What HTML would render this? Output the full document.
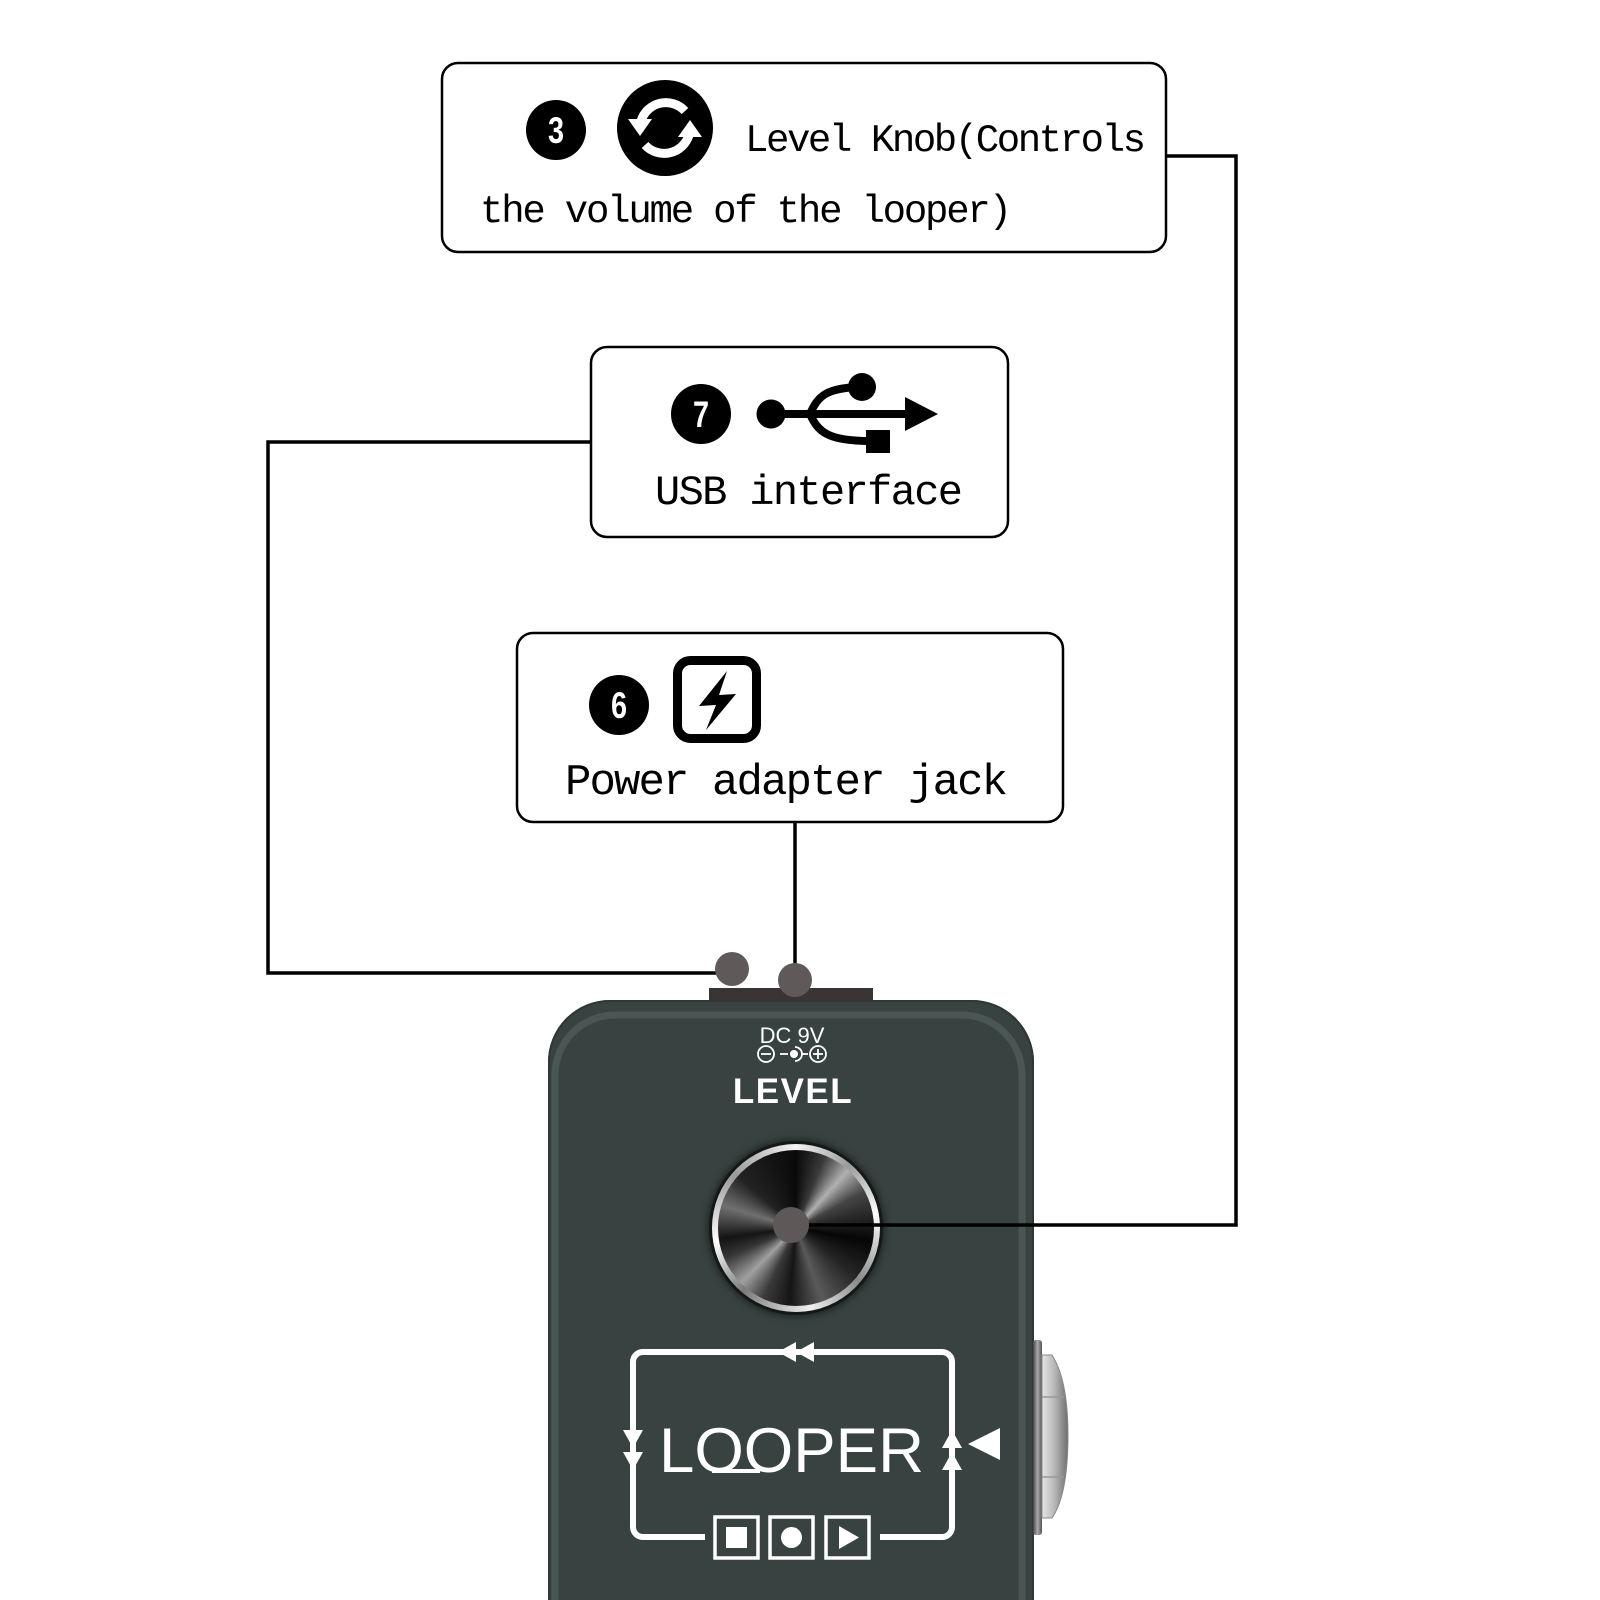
<!DOCTYPE html>
<html><head><meta charset="utf-8"><style>
html,body{margin:0;padding:0;background:#fff;}
#wrap{position:relative;width:1600px;height:1600px;overflow:hidden;background:#fff;}
svg{position:absolute;left:0;top:0;}
.knob{position:absolute;left:712px;top:1144px;width:168px;height:168px;border-radius:50%;
background:conic-gradient(#f4f4f4 0deg,#9a9a9a 40deg,#ffffff 80deg,#8a8a8a 130deg,#f0f0f0 170deg,#7a7a7a 220deg,#ffffff 260deg,#999 310deg,#f4f4f4 360deg);
box-shadow:0 0 0 3px #151818,0 0 8px 5px rgba(0,0,0,.45);}
.knob .in{position:absolute;left:6px;top:6px;right:6px;bottom:6px;border-radius:50%;
background:conic-gradient(#0a0a0a 0deg,#3a3a3a 22deg,#b0b0b0 42deg,#444 62deg,#060606 100deg,#262626 130deg,#5a5a5a 160deg,#151515 185deg,#3a3a3a 205deg,#a0a0a0 225deg,#363636 247deg,#141414 262deg,#707070 287deg,#222 312deg,#0a0a0a 360deg);}
</style></head><body><div id="wrap">
<svg width="1600" height="1600" viewBox="0 0 1600 1600" xmlns="http://www.w3.org/2000/svg">
  <rect width="1600" height="1600" fill="#fff"/>
  <!-- Box 1 -->
  <rect x="442" y="63" width="724" height="189" rx="16" fill="#fff" stroke="#000" stroke-width="2.5"/>
  <circle cx="556" cy="130" r="30" fill="#000"/>
  <text x="556" y="143" font-family="Liberation Sans, sans-serif" font-weight="bold" font-size="37" fill="#fff" text-anchor="middle" transform="translate(556 0) scale(0.78 1) translate(-556 0)">3</text>
  <circle cx="665" cy="128" r="48" fill="#000"/>
  <path d="M685 111 A26 26 0 0 0 641 121" fill="none" stroke="#fff" stroke-width="9"/>
  <polygon points="628,119 652,119 640,136" fill="#fff"/>
  <path d="M645 145 A26 26 0 0 0 689 135" fill="none" stroke="#fff" stroke-width="9"/>
  <polygon points="678,137 702,137 690,120" fill="#fff"/>
  <text x="745" y="151" font-family="Liberation Mono, monospace" font-size="39" fill="#000" textLength="401" lengthAdjust="spacing">Level Knob(Controls</text>
  <text x="480" y="222" font-family="Liberation Mono, monospace" font-size="39" fill="#000" textLength="532" lengthAdjust="spacing">the volume of the looper)</text>

  <!-- Box 2 -->
  <rect x="591" y="347" width="417" height="190" rx="16" fill="#fff" stroke="#000" stroke-width="2.5"/>
  <circle cx="701" cy="414" r="30" fill="#000"/>
  <text x="701" y="427" font-family="Liberation Sans, sans-serif" font-weight="bold" font-size="37" fill="#fff" text-anchor="middle" transform="translate(701 0) scale(0.78 1) translate(-701 0)">7</text>
  <circle cx="771" cy="414" r="14.5" fill="#000"/>
  <line x1="771" y1="414" x2="912" y2="414" stroke="#000" stroke-width="8"/>
  <polygon points="905,397 938,414 905,431" fill="#000"/>
  <path d="M810 414 C818 396 826 388 860 387" fill="none" stroke="#000" stroke-width="8"/>
  <circle cx="862" cy="387" r="14" fill="#000"/>
  <path d="M810 414 C818 432 828 441 870 441" fill="none" stroke="#000" stroke-width="8"/>
  <rect x="866" y="430" width="24" height="23" fill="#000"/>
  <text x="655" y="504" font-family="Liberation Mono, monospace" font-size="42" fill="#000" textLength="308" lengthAdjust="spacing">USB interface</text>

  <!-- Box 3 -->
  <rect x="517" y="633" width="546" height="189" rx="16" fill="#fff" stroke="#000" stroke-width="2.5"/>
  <circle cx="619" cy="705" r="30" fill="#000"/>
  <text x="619" y="718" font-family="Liberation Sans, sans-serif" font-weight="bold" font-size="37" fill="#fff" text-anchor="middle" transform="translate(619 0) scale(0.78 1) translate(-619 0)">6</text>
  <rect x="677.5" y="660.5" width="79" height="78" rx="13" fill="#fff" stroke="#000" stroke-width="9"/>
  <path d="M727 671 L699 706 L716 705 L706 730 L736 694 L719 695 Z" fill="#000"/>
  <text x="565" y="794" font-family="Liberation Mono, monospace" font-size="44" fill="#000" textLength="443" lengthAdjust="spacing">Power adapter jack</text>

  <!-- Pedal -->
  <rect x="709" y="988" width="164" height="14" fill="#3b3434"/>
  <path d="M548 1600 V1062 A62 62 0 0 1 610 1000 H972 A62 62 0 0 1 1034 1062 V1600 Z" fill="#384341"/>
  <path d="M555 1600 V1075 A60 60 0 0 1 615 1015 H962 A60 60 0 0 1 1022 1075 V1600" fill="none" stroke="#4a5654" stroke-width="7"/>
  <path d="M549 1600 V1062 A61 61 0 0 1 610 1001 H972 A61 61 0 0 1 1033 1062 V1600" fill="none" stroke="#2e3735" stroke-width="2"/>

  <!-- jack on right -->
  <defs>
    <linearGradient id="nut" x1="0" x2="1" y1="0" y2="0">
      <stop offset="0" stop-color="#e6e6e6"/><stop offset="0.5" stop-color="#b4b4b4"/><stop offset="1" stop-color="#6e6e6e"/>
    </linearGradient>
    <linearGradient id="plate" x1="0" x2="1" y1="0" y2="0">
      <stop offset="0" stop-color="#444"/><stop offset="0.5" stop-color="#aaa"/><stop offset="1" stop-color="#555"/>
    </linearGradient>
  </defs>
  <rect x="1033" y="1340" width="9" height="195" rx="3" fill="url(#plate)"/>
  <path d="M1042 1355 H1052 Q1068 1380 1068 1435 Q1068 1495 1052 1518 H1042 Z" fill="url(#nut)" stroke="#8a8a8a" stroke-width="1"/>
  <line x1="1042" y1="1397" x2="1064" y2="1397" stroke="#999" stroke-width="1.5"/>
  <line x1="1042" y1="1477" x2="1064" y2="1477" stroke="#999" stroke-width="1.5"/>

  <!-- DC 9V -->
  <text x="792" y="1043" font-family="Liberation Sans, sans-serif" font-size="22" fill="#fff" text-anchor="middle">DC 9V</text>
  <circle cx="766" cy="1054" r="8" fill="none" stroke="#fff" stroke-width="1.8"/>
  <line x1="761" y1="1054" x2="771" y2="1054" stroke="#fff" stroke-width="1.8"/>
  <line x1="780" y1="1054" x2="788" y2="1054" stroke="#fff" stroke-width="1.8"/>
  <circle cx="794" cy="1054" r="4" fill="#fff"/>
  <path d="M795 1047 A7 7 0 0 1 795 1061" fill="none" stroke="#fff" stroke-width="1.8"/>
  <line x1="801" y1="1054" x2="808" y2="1054" stroke="#fff" stroke-width="1.8"/>
  <circle cx="818" cy="1054" r="8" fill="none" stroke="#fff" stroke-width="1.8"/>
  <line x1="813" y1="1054" x2="823" y2="1054" stroke="#fff" stroke-width="1.8"/>
  <line x1="818" y1="1049" x2="818" y2="1059" stroke="#fff" stroke-width="1.8"/>
  <text x="793" y="1103" font-family="Liberation Sans, sans-serif" font-weight="bold" font-size="35" fill="#fff" text-anchor="middle" letter-spacing="1.5">LEVEL</text>

  <!-- Loop diagram -->
  <path d="M705 1537 H643 A10 10 0 0 1 633 1527 V1362 A10 10 0 0 1 643 1352 H942 A10 10 0 0 1 952 1362 V1527 A10 10 0 0 1 942 1537 H880" fill="none" stroke="#fff" stroke-width="6"/>
  <polygon points="778,1352 796,1342 796,1362" fill="#fff"/>
  <polygon points="796,1352 814,1342 814,1362" fill="#fff"/>
  <polygon points="623,1430 643,1430 633,1448" fill="#fff"/>
  <polygon points="623,1452 643,1452 633,1470" fill="#fff"/>
  <polygon points="942,1448 962,1448 952,1430" fill="#fff"/>
  <polygon points="942,1470 962,1470 952,1452" fill="#fff"/>
  <polygon points="968,1444 1000,1428 1000,1460" fill="#fff"/>
  <text x="659" y="1472" font-family="Liberation Sans, sans-serif" font-size="63" fill="#fff" textLength="265" lengthAdjust="spacingAndGlyphs">LOOPER</text>
  <line x1="712" y1="1471" x2="760" y2="1471" stroke="#fff" stroke-width="4"/>
  <rect x="715" y="1517" width="43" height="41" fill="#384341" stroke="#fff" stroke-width="3.5"/>
  <rect x="726" y="1527" width="21" height="21" fill="#fff"/>
  <rect x="770" y="1517" width="43" height="41" fill="#384341" stroke="#fff" stroke-width="3.5"/>
  <circle cx="791.5" cy="1537.5" r="10.5" fill="#fff"/>
  <rect x="826" y="1517" width="43" height="41" fill="#384341" stroke="#fff" stroke-width="3.5"/>
  <polygon points="839,1526 839,1549 859,1537.5" fill="#fff"/>
</svg>
<div class="knob"><div class="in"></div></div>
<svg width="1600" height="1600" viewBox="0 0 1600 1600" xmlns="http://www.w3.org/2000/svg">
  <polyline points="1166,156 1236,156 1236,1225 791,1225" fill="none" stroke="#000" stroke-width="3.5"/>
  <polyline points="591,442 268,442 268,973 720,973" fill="none" stroke="#000" stroke-width="3.5"/>
  <line x1="795" y1="822" x2="795" y2="968" stroke="#000" stroke-width="3.5"/>
  <circle cx="732" cy="969" r="17" fill="#5f5a59"/>
  <circle cx="795" cy="980" r="17" fill="#5f5a59"/>
  <circle cx="791" cy="1225" r="18" fill="#5e5858"/>
</svg>
</div></body></html>
